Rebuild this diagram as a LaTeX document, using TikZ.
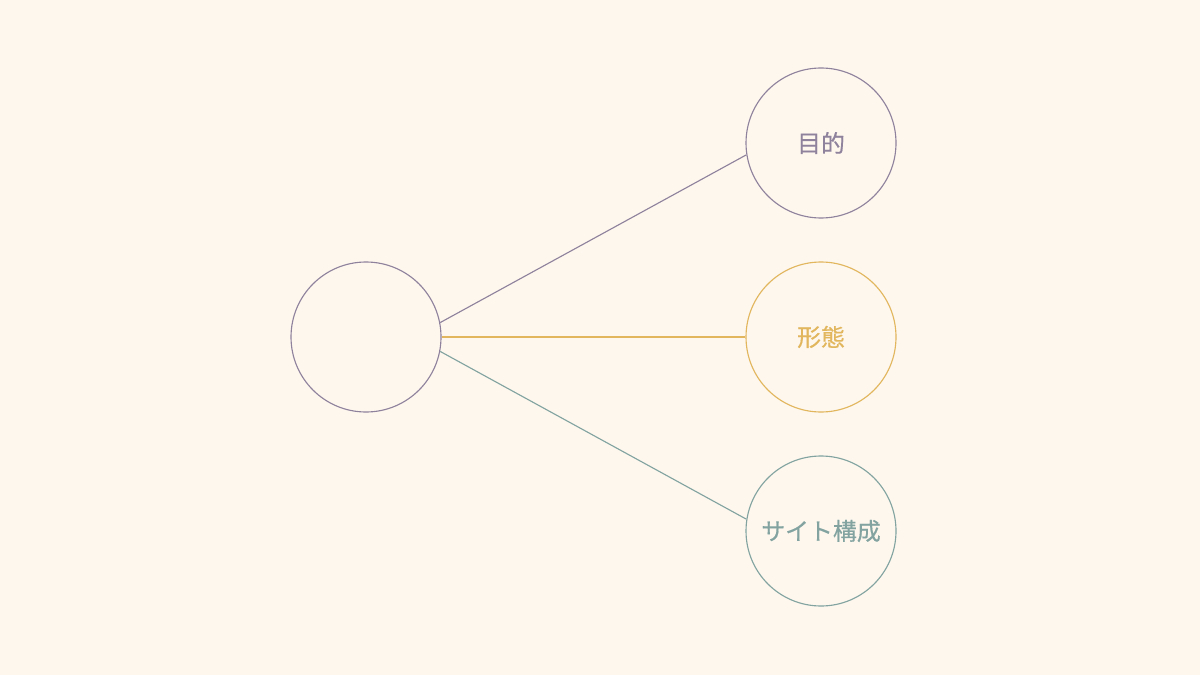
\documentclass[tikz,border=0pt]{standalone}
\usepackage{fontspec}
\newfontfamily\cjk[FakeBold=0.5]{Noto Sans CJK JP}
\definecolor{bg}{HTML}{FDF7EE}
\definecolor{cpurple}{HTML}{8E829C}
\definecolor{cyellow}{HTML}{E2B65C}
\definecolor{cteal}{HTML}{82A3A0}
\begin{document}
\begin{tikzpicture}[x=0.025cm,y=-0.025cm,
  circ/.style={circle,draw,line width=0.8pt,minimum size=150*0.025cm,inner sep=0pt,font=\cjk\fontsize{17}{19}\selectfont},
  link/.style={line width=0.8pt}]
\fill[bg] (0,0) rectangle (1200,675);
\useasboundingbox (0,0) rectangle (1200,675);
\node[circ,draw=cpurple] (c) at (366,337) {};
\node[circ,draw=cpurple,text=cpurple] (a) at (821,143) {目的};
\node[circ,draw=cyellow,text=cyellow] (b) at (821,337) {形態};
\node[circ,draw=cteal,text=cteal] (d) at (821,531) {サイト構成};
\draw[link,cpurple] (c.11) -- (a.189);
\draw[link,cyellow] (c.east) -- (b.west);
\draw[link,cteal] (c.-11) -- (d.171);
\end{tikzpicture}
\end{document}
